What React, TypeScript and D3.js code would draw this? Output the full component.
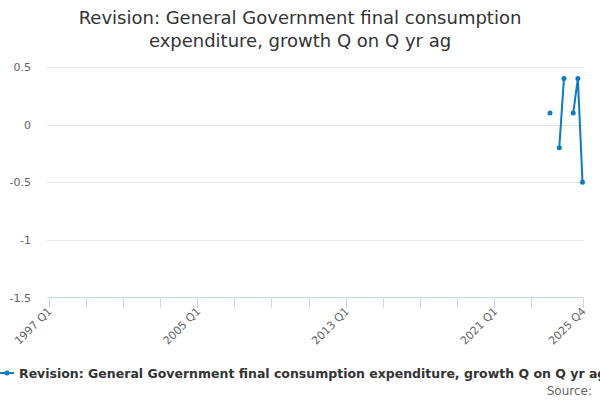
import React from "react";
import * as d3 from "d3";

const title = "Revision: General Government final consumption expenditure, growth Q on Q yr ag";
const titleLines = ["Revision: General Government final consumption", "expenditure, growth Q on Q yr ag"];
const periods = ["2024 Q1", "2024 Q2", "2024 Q3", "2024 Q4", "2025 Q1", "2025 Q2", "2025 Q3", "2025 Q4"];
const values: (number | null)[] = [0.1, null, -0.2, 0.4, null, 0.1, 0.4, -0.5];
const yTicks = [0.5, 0, -0.5, -1, -1.5];
const xLabelTicks = ["1997 Q1", "2005 Q1", "2013 Q1", "2021 Q1", "2025 Q4"];
const xMinorTicks = ["1999 Q1", "2001 Q1", "2003 Q1", "2007 Q1", "2009 Q1", "2011 Q1", "2015 Q1", "2017 Q1", "2019 Q1", "2023 Q1"];
const firstPeriod = "1997 Q1";
const lastPeriod = "2025 Q4";

const qIndex = (p: string) => {
  const [y, q] = p.split(" Q");
  return (+y - 1997) * 4 + (+q - 1);
};

export default function App() {
  const W = 600, H = 400;
  const x = d3.scaleLinear().domain([qIndex(firstPeriod), qIndex(lastPeriod)]).range([48.5, 582.5]);
  const y = d3.scaleLinear().domain([-1.5, 0.5]).range([297.5, 67]);
  const pts = periods.map((p, i) => ({ i: qIndex(p), v: values[i] }));
  const line = d3
    .line<{ i: number; v: number | null }>()
    .defined((d) => d.v !== null)
    .x((d) => x(d.i))
    .y((d) => y(d.v as number));
  const font = "'DejaVu Sans', Verdana, sans-serif";
  const color = "#0a7bc1";
  const allTicks = [...xLabelTicks, ...xMinorTicks];
  return (
    <svg width={W} height={H} style={{ position: "absolute", left: 0, top: 0, fontFamily: font }}>
      <rect width={W} height={H} fill="#fff" />
      {titleLines.map((t, i) => (
        <text key={i} x={300} y={24 + i * 23} textAnchor="middle" fontSize={18} fill="#333">
          {t}
        </text>
      ))}
      {yTicks.map((t) => (
        <g key={t}>
          {t !== -1.5 && (
            <line x1={47} x2={584} y1={Math.round(y(t)) + 0.5} y2={Math.round(y(t)) + 0.5} stroke="#e6e6e6" />
          )}
          <text x={31} y={y(t) + 4} textAnchor="end" fontSize={11} fill="#666">
            {String(t)}
          </text>
        </g>
      ))}
      <line x1={47} x2={584} y1={297.5} y2={297.5} stroke="#ccd6eb" />
      {allTicks.map((p) => (
        <line key={p} x1={Math.round(x(qIndex(p))) + 0.5} x2={Math.round(x(qIndex(p))) + 0.5} y1={297} y2={308} stroke="#ccd6eb" />
      ))}
      {xLabelTicks.map((p) => (
        <text
          key={p}
          transform={`translate(${x(qIndex(p)) + 4},${312}) rotate(-45)`}
          textAnchor="end"
          fontSize={11}
          fill="#666"
        >
          {p}
        </text>
      ))}
      <path d={line(pts) || ""} fill="none" stroke={color} strokeWidth={2} strokeLinejoin="round" strokeLinecap="round" />
      {pts
        .filter((d) => d.v !== null)
        .map((d) => (
          <circle key={d.i} cx={x(d.i)} cy={y(d.v as number)} r={2.5} fill={color} />
        ))}
      <line x1={0} x2={14} y1={373} y2={373} stroke={color} strokeWidth={2} />
      <circle cx={7} cy={373} r={2.5} fill={color} />
      <text x={19} y={378} fontSize={12.5} fontWeight="bold" fill="#333">
        {title}
      </text>
      <text x={592} y={395} textAnchor="end" fontSize={12} fill="#666">
        Source:
      </text>
    </svg>
  );
}
